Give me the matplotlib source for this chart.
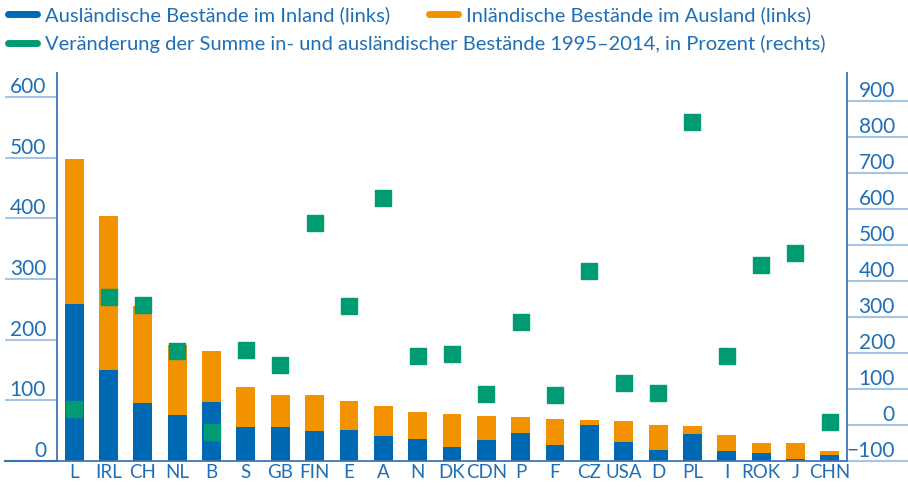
import matplotlib.pyplot as plt
from matplotlib.lines import Line2D
import numpy as np

plt.rcParams['font.family'] = ['Lato', 'DejaVu Sans']

# Länder (links nach rechts)
countries = ['L', 'IRL', 'CH', 'NL', 'B', 'S', 'GB', 'FIN', 'E', 'A', 'N', 'DK',
             'CDN', 'P', 'F', 'CZ', 'USA', 'D', 'PL', 'I', 'ROK', 'J', 'CHN']
# Ausländische Bestände im Inland (links)
inland = [259, 150, 96, 76, 97, 56, 56, 50, 51, 41, 36, 23,
          35, 46, 26, 60, 31, 18, 45, 17, 13, 3, 10]
# Inländische Bestände im Ausland (links)
ausland = [239, 254, 160, 115, 84, 66, 53, 59, 48, 50, 45, 55,
           39, 26, 44, 7, 35, 42, 12, 26, 17, 27, 7]
# Veränderung 1995-2014 in Prozent (rechts)
change = [44, 354, 332, 205, -19, 207, 166, 559, 329, 631, 191, 196,
          86, 285, 83, 426, 116, 89, 841, 191, 445, 476, 8]

left_ticks = [0, 100, 200, 300, 400, 500, 600]
right_ticks = [-100, 0, 100, 200, 300, 400, 500, 600, 700, 800, 900]

blue = '#0069b4'
orange = '#f39200'
green = '#009a73'
txt = '#1f6fb6'
axcol = '#3a76b8'
grid = '#a8c5e6'

fig = plt.figure(figsize=(9.08, 4.87), dpi=100)
ax = fig.add_axes([0.0628, 0.0534, 0.87, 0.797])
ax2 = ax.twinx()

x = np.arange(len(countries))
ax.bar(x, inland, width=0.55, color=blue, zorder=2)
ax.bar(x, ausland, width=0.55, bottom=inland, color=orange, zorder=2)
ax2.plot(x, change, 's', color=green, markersize=11.5, linestyle='none', zorder=3)

ax.set_xlim(-0.5, len(countries) - 0.5)
ax.set_ylim(0, 640)
ax2.set_ylim(-100, 977)

ax.set_xticks(x)
ax.set_xticklabels(countries)
ax.tick_params(axis='x', length=0, pad=2.5, labelsize=13.5, labelcolor=txt)

ax.set_yticks(left_ticks)
ax.tick_params(axis='y', direction='out', length=37.4, width=1.5, color=grid,
               pad=-29.5, labelsize=15, labelcolor=txt)
plt.setp(ax.get_yticklabels(), va='bottom')

ax2.set_yticks(right_ticks)
ax2.set_yticklabels([str(t).replace('-', '\u2212') for t in right_ticks])
ax2.tick_params(axis='y', direction='out', length=43.9, width=1.5, color=grid,
                pad=-9.4, labelsize=15, labelcolor=txt)
plt.setp(ax2.get_yticklabels(), va='bottom', ha='right')

for a in (ax, ax2):
    for s in a.spines.values():
        s.set_color(axcol)
        s.set_linewidth(1.3)
    a.spines['top'].set_visible(False)
ax.spines['right'].set_visible(False)
ax2.spines['left'].set_visible(False)
ax2.spines['bottom'].set_visible(False)
ax.axhline(0, xmin=-0.066, xmax=0, color=axcol, linewidth=1.5, clip_on=False)

h1 = [Line2D([0], [0], color=blue, lw=5, solid_capstyle='round'),
      Line2D([0], [0], color=orange, lw=5, solid_capstyle='round')]
l1 = ['Ausländische Bestände im Inland (links)', 'Inländische Bestände im Ausland (links)']
fig.legend(h1, l1, loc='center left', bbox_to_anchor=(0.0, 0.969), ncol=2,
           frameon=False, fontsize=14.5, handlelength=1.45, handletextpad=0.4,
           columnspacing=1.9, labelcolor=txt, borderaxespad=0)
h2 = [Line2D([0], [0], color=green, lw=5, solid_capstyle='round')]
l2 = ['Veränderung der Summe in- und ausländischer Bestände 1995\u20132014, in Prozent (rechts)']
fig.legend(h2, l2, loc='center left', bbox_to_anchor=(0.0, 0.910),
           frameon=False, fontsize=14.5, handlelength=1.45, handletextpad=0.4,
           labelcolor=txt, borderaxespad=0)

fig.savefig('out.png', dpi=100)
